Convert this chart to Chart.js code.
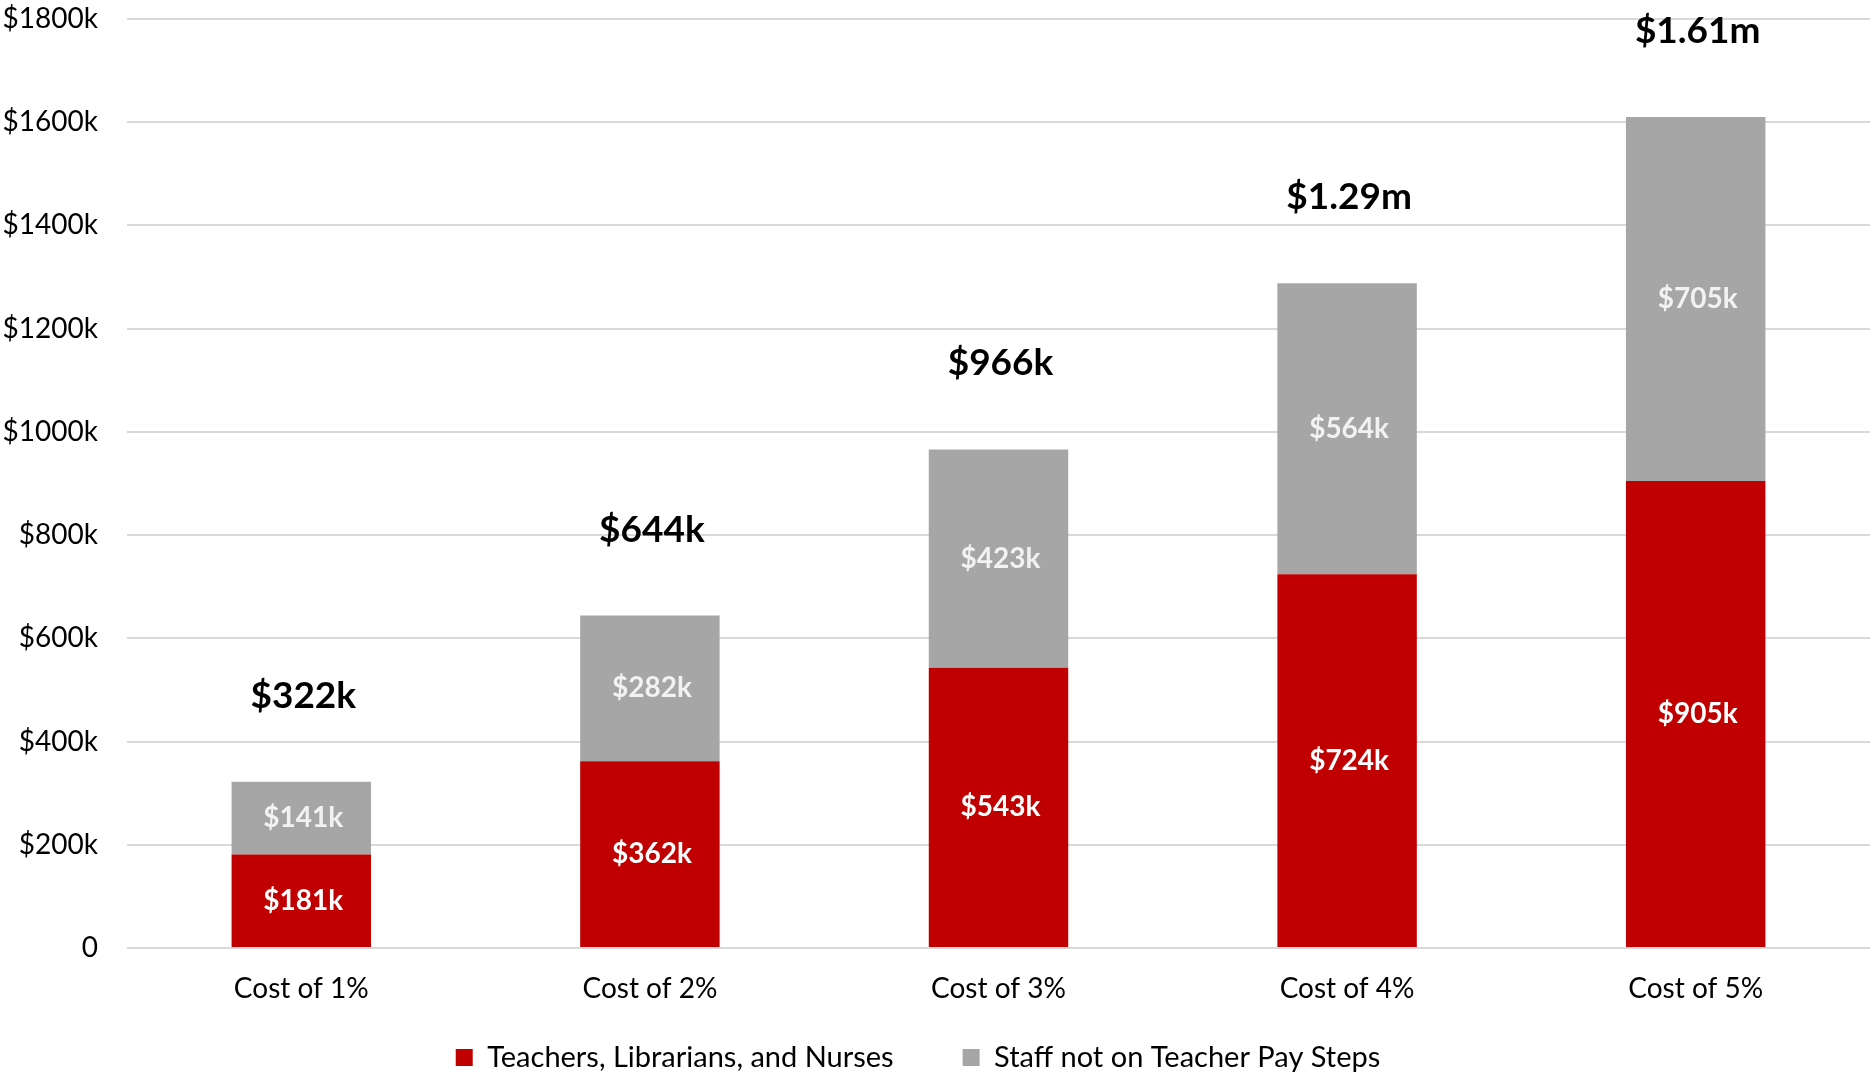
<!DOCTYPE html>
<html>
<head>
<meta charset="utf-8">
<script src="https://cdn.jsdelivr.net/npm/chart.js@4"></script>
<style>
  html, body { margin: 0; padding: 0; background: #fff; }
  canvas { display: block; }
</style>
</head>
<body>
<canvas id="grafico" width="1870" height="1072"></canvas>
<script>
const labels = ["Cost of 1%", "Cost of 2%", "Cost of 3%", "Cost of 4%", "Cost of 5%"];
const teachers = [181, 362, 543, 724, 905];
const staff = [141, 282, 423, 564, 705];
const seriesNames = ["Teachers, Librarians, and Nurses", "Staff not on Teacher Pay Steps"];

const fonte = "Lato, 'Open Sans', sans-serif";

function dinheiro(v) {
    if (v >= 1000) return "$" + (v / 1000).toFixed(2) + "m";
    return "$" + v + "k";
}

const rotulos = {
    id: "rotulos",
    afterDatasetsDraw(chart) {
        const ctx = chart.ctx;
        ctx.save();
        ctx.textAlign = "center";
        ctx.textBaseline = "middle";
        chart.data.datasets.forEach((ds, i) => {
            const meta = chart.getDatasetMeta(i);
            ctx.fillStyle = i === 0 ? "#ffffff" : "#f2f2f2";
            ctx.font = "bold 28px " + fonte;
            meta.data.forEach((bar, j) => {
                ctx.fillText("$" + ds.data[j] + "k", bar.x + 2, (bar.y + bar.base) / 2);
            });
        });
        const y = chart.scales.y;
        const x = chart.scales.x;
        ctx.fillStyle = "#000000";
        ctx.font = "bold 37px " + fonte;
        labels.forEach((l, j) => {
            const total = teachers[j] + staff[j];
            ctx.fillText(dinheiro(total), x.getPixelForValue(j) + 2, y.getPixelForValue(total) - 86);
        });
        ctx.restore();
    }
};

new Chart(document.getElementById("grafico"), {
    type: "bar",
    data: {
        labels: labels,
        datasets: [{
            label: seriesNames[0],
            data: teachers,
            backgroundColor: "#c00000"
        }, {
            label: seriesNames[1],
            data: staff,
            backgroundColor: "#a6a6a6"
        }]
    },
    options: {
        responsive: false,
        animation: false,
        devicePixelRatio: 1,
        // padding negativo à esquerda só para centrar a legenda como no original
        layout: { padding: { top: 19, right: 0, left: -34, bottom: -10 } },
        datasets: { bar: { categoryPercentage: 1, barPercentage: 0.4 } },
        scales: {
            x: {
                stacked: true,
                afterFit(scale) {
                    scale.height = 26;
                    scale._computeLabelArea = () => null;
                },
                grid: { display: false },
                border: { display: false },
                ticks: { color: "#000", font: { family: fonte, size: 28 }, padding: 16 }
            },
            y: {
                stacked: true,
                min: 0,
                max: 1800,
                afterFit(scale) {
                    scale.width = 161;
                    scale.paddingTop = 0;
                    scale.paddingBottom = 0;
                },
                grid: { color: "#d9d9d9", lineWidth: 2, drawTicks: false },
                border: { display: false },
                ticks: {
                    stepSize: 200,
                    padding: 29,
                    color: "#000",
                    font: { family: fonte, size: 28 },
                    callback: v => v === 0 ? "0" : "$" + v + "k"
                }
            }
        },
        plugins: {
            tooltip: { enabled: false },
            legend: {
                position: "bottom",
                labels: {
                    color: "#000",
                    font: { family: fonte, size: 29 },
                    boxWidth: 17,
                    boxHeight: 17,
                    padding: 69
                }
            }
        }
    },
    plugins: [rotulos]
});
</script>
</body>
</html>
